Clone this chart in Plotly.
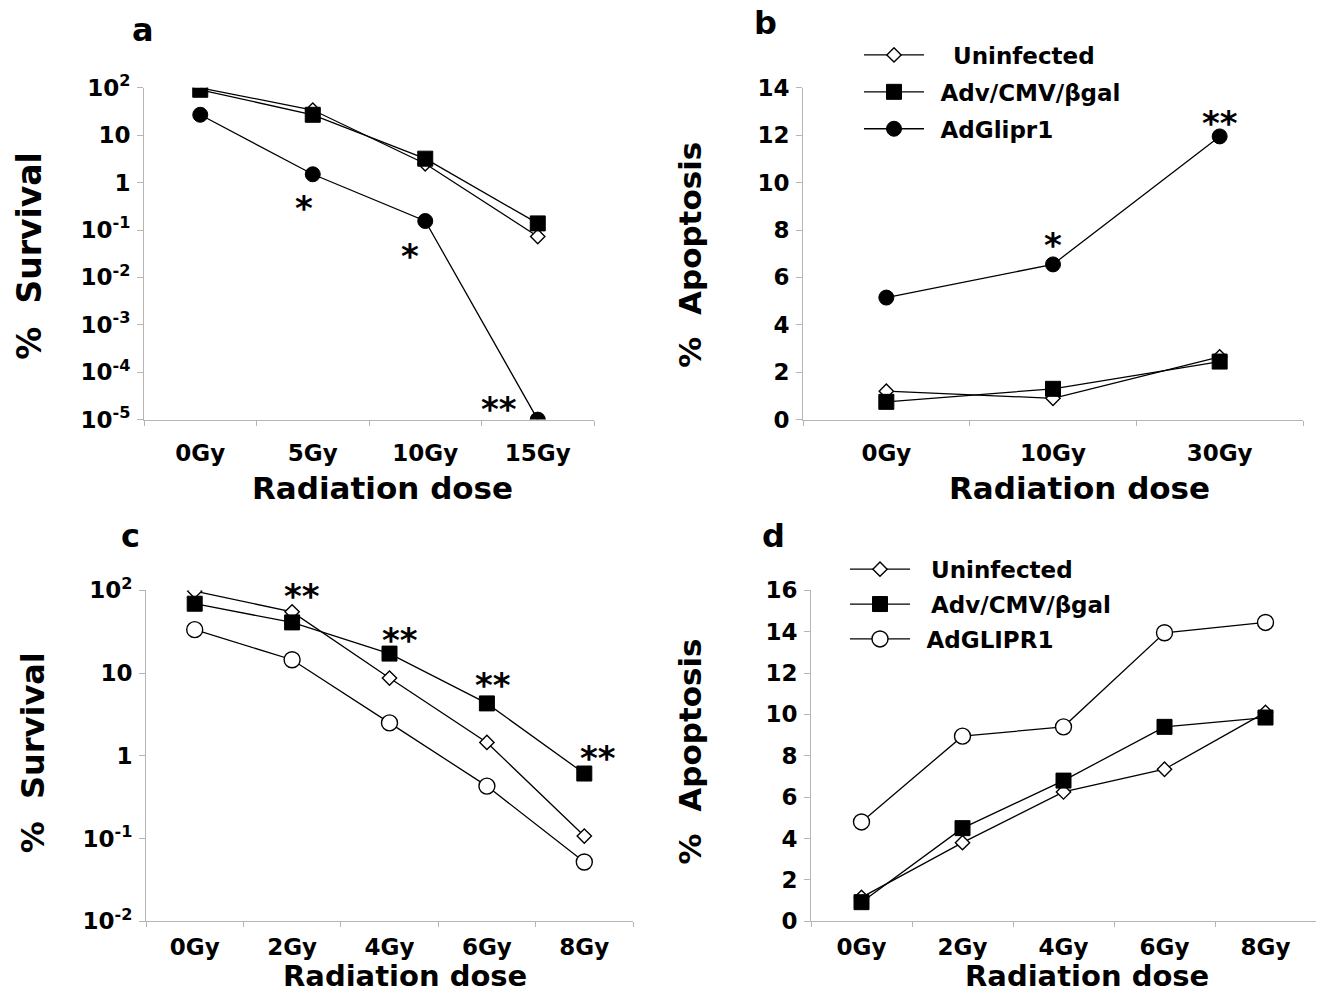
import math
import plotly.graph_objects as go

# ---------------- data ----------------
a_cats = ["0Gy", "5Gy", "10Gy", "15Gy"]
a_uninfected = [100, 34, 2.5, 0.073]
a_adv = [91, 27, 3.2, 0.138]
a_glipr1 = [27, 1.5, 0.155, 1e-5]

b_cats = ["0Gy", "10Gy", "30Gy"]
b_uninfected = [1.2, 0.9, 2.65]
b_adv = [0.75, 1.3, 2.45]
b_glipr1 = [5.15, 6.55, 11.95]

c_cats = ["0Gy", "2Gy", "4Gy", "6Gy", "8Gy"]
c_uninfected = [98, 55, 8.7, 1.45, 0.107]
c_adv = [69, 41, 17.2, 4.3, 0.61]
c_glipr1 = [33.5, 14.5, 2.5, 0.43, 0.052]

d_cats = ["0Gy", "2Gy", "4Gy", "6Gy", "8Gy"]
d_uninfected = [1.15, 3.8, 6.25, 7.35, 10.1]
d_adv = [0.92, 4.5, 6.8, 9.4, 9.85]
d_glipr1 = [4.8, 8.95, 9.4, 13.95, 14.45]

NB = "\u00a0"
EN = "\u2002"
series_names_top = [NB * 3 + "Uninfected", EN + "Adv/CMV/\u03b2gal", EN + "AdGlipr1"]
series_names_bottom = [NB * 2 + "Uninfected", NB * 2 + "Adv/CMV/\u03b2gal", EN + "AdGLIPR1"]

log_a_ticks = [1e-5, 1e-4, 1e-3, 1e-2, 1e-1, 1, 10, 100]
log_a_text = ["10<sup>-5</sup>", "10<sup>-4</sup>", "10<sup>-3</sup>", "10<sup>-2</sup>",
              "10<sup>-1</sup>", "1", "10", "10<sup>2</sup>"]
log_c_ticks = [1e-2, 1e-1, 1, 10, 100]
log_c_text = ["10<sup>-2</sup>", "10<sup>-1</sup>", "1", "10", "10<sup>2</sup>"]

# significance marks: (axis suffix, category, series value, label, dx, dy[down positive])
sig_marks = [
    ("", "5Gy", a_glipr1[1], "*", -9, 34),
    ("", "10Gy", a_glipr1[2], "*", -15, 35),
    ("", "15Gy", a_glipr1[3], "**", -39, -11),
    ("2", "10Gy", b_glipr1[1], "*", 0, -19),
    ("2", "30Gy", b_glipr1[2], "**", 0, -13),
    ("3", "2Gy", c_adv[1], "**", 10, -26),
    ("3", "4Gy", c_adv[2], "**", 10, -14),
    ("3", "6Gy", c_adv[3], "**", 6, -18),
    ("3", "8Gy", c_adv[4], "**", 14, -16),
]

# ---------------- layout geometry (pixels) ----------------
W, H = 1321, 1006
FONT = "DejaVu Sans"
AXC = "#b5b5b5"


def dom_x(x0, x1):
    return [x0 / W, x1 / W]


def dom_y(top, bottom):
    return [1 - bottom / H, 1 - top / H]


fig = go.Figure()

line_style = dict(color="black", width=1.3)
sym_u = dict(symbol="diamond", size=11, color="white", line=dict(color="black", width=1.4))
sym_a = dict(symbol="square", size=15, color="black", line=dict(color="black", width=1))
sym_g_filled = dict(symbol="circle", size=15, color="black", line=dict(color="black", width=1))
sym_g_open = dict(symbol="circle", size=16, color="white", line=dict(color="black", width=1.4))


def add_panel(cats, ys, names, syms, xa, ya, legend=None):
    for y, name, sym in zip(ys, names, syms):
        fig.add_trace(go.Scatter(
            x=cats, y=y, name=name, mode="lines+markers",
            line=line_style, marker=sym, xaxis=xa, yaxis=ya,
            showlegend=legend is not None, legend=legend if legend else "legend",
            legendgroup=name + (legend or ""),
        ))


add_panel(a_cats, [a_uninfected, a_adv, a_glipr1], series_names_top,
          [sym_u, sym_a, sym_g_filled], "x", "y")
add_panel(b_cats, [b_uninfected, b_adv, b_glipr1], series_names_top,
          [sym_u, sym_a, sym_g_filled], "x2", "y2", legend="legend")
add_panel(c_cats, [c_uninfected, c_adv, c_glipr1], series_names_bottom,
          [sym_u, sym_a, sym_g_open], "x3", "y3")
add_panel(d_cats, [d_uninfected, d_adv, d_glipr1], series_names_bottom,
          [sym_u, sym_a, sym_g_open], "x4", "y4", legend="legend2")

tickfont = dict(family=FONT, size=23, color="black", weight="bold")


def xaxis(dom, anchor, cats, standoff):
    return dict(domain=dom, anchor=anchor, type="category", tickson="boundaries",
                range=[-0.5, len(cats) - 0.5],
                showline=True, linecolor=AXC, linewidth=1, ticks="outside",
                ticklen=5, tickcolor=AXC, showgrid=False, zeroline=False,
                tickfont=tickfont, ticklabelstandoff=standoff, fixedrange=True)


def yaxis(dom, anchor, **kw):
    d = dict(domain=dom, anchor=anchor, showline=True, linecolor=AXC, linewidth=1,
             ticks="outside", ticklen=6, tickcolor=AXC, showgrid=False,
             zeroline=False, tickfont=tickfont, ticklabelstandoff=2, fixedrange=True)
    d.update(kw)
    return d


TOP1, BOT1 = 73, 415
TOP2, BOT2 = 591, 932

legend_font = dict(family=FONT, size=23, color="black", weight="bold")
fig.update_layout(
    width=W, height=H, margin=dict(l=0, r=0, t=0, b=0),
    paper_bgcolor="white", plot_bgcolor="white",
    font=dict(family=FONT, color="black"),
    xaxis=xaxis(dom_x(144, 594), "y", a_cats, 13),
    yaxis=yaxis(dom_y(TOP1, BOT1), "x", type="log", range=[-5, 2],
                tickvals=log_a_ticks, ticktext=log_a_text),
    xaxis2=xaxis(dom_x(803, 1303), "y2", b_cats, 13),
    yaxis2=yaxis(dom_y(TOP1, BOT1), "x2", range=[0, 14], tickvals=list(range(0, 15, 2))),
    xaxis3=xaxis(dom_x(146, 633), "y3", c_cats, 5),
    yaxis3=yaxis(dom_y(TOP2, BOT2), "x3", type="log", range=[-2, 2],
                 tickvals=log_c_ticks, ticktext=log_c_text),
    xaxis4=xaxis(dom_x(811, 1316), "y4", d_cats, 5),
    yaxis4=yaxis(dom_y(TOP2, BOT2), "x4", range=[0, 16], tickvals=list(range(0, 17, 2))),
    legend=dict(x=859 / W, y=1 - 17 / H, xanchor="left", yanchor="top",
                font=legend_font, bgcolor="rgba(0,0,0,0)", itemwidth=60,
                tracegroupgap=4, itemclick=False),
    legend2=dict(x=845 / W, y=1 - 547 / H, xanchor="left", yanchor="top",
                 font=legend_font, bgcolor="rgba(0,0,0,0)", itemwidth=60,
                 tracegroupgap=2, itemclick=False),
)

annots = []
letter_font = dict(family=FONT, size=32, color="black", weight="bold")
# x titles
for cx, cy, fs in [(383, 485, 31), (1079, 485, 31), (405, 988, 29), (1087, 988, 29)]:
    annots.append(dict(text="Radiation dose", x=cx / W, y=1 - cy / H, xref="paper", yref="paper",
                       showarrow=False,
                       font=dict(family=FONT, size=fs, color="black", weight="bold"),
                       xanchor="center", yanchor="middle"))
# y titles
for txt, cx, cy, fs in [("%" + NB * 2 + "Survival", 30, 246, 33),
                        ("%" + NB * 2 + "Apoptosis", 690, 245, 31),
                        ("%" + NB * 2 + "Survival", 33, 759, 32),
                        ("%" + NB * 2 + "Apoptosis", 690, 757, 31)]:
    annots.append(dict(text=txt, x=cx / W, y=1 - cy / H, xref="paper", yref="paper",
                       textangle=-90, showarrow=False,
                       font=dict(family=FONT, size=fs, color="black", weight="bold"),
                       xanchor="center", yanchor="middle"))
# panel letters
for txt, cx, cy in [("a", 143, 13), ("b", 765, 6), ("c", 130, 535), ("d", 773, 535)]:
    annots.append(dict(text=txt, x=cx / W, y=1 - cy / H, xref="paper", yref="paper",
                       showarrow=False, font=letter_font, xanchor="center", yanchor="middle"))
# significance marks (anchored to data points)
ast_font = dict(family=FONT, size=34, color="black", weight="bold")
for ax, cat, val, lab, dx, dy in sig_marks:
    is_log = ax in ("", "3")
    yv = math.log10(val) if is_log else val
    annots.append(dict(text=lab, x=cat, y=yv, xref="x" + ax, yref="y" + ax,
                       showarrow=False, font=ast_font, xanchor="center", yanchor="middle",
                       xshift=dx, yshift=-dy))
fig.update_layout(annotations=annots)

fig.write_html("out.html", post_script="document.body.style.margin='0px';",
               config={"displayModeBar": False})
